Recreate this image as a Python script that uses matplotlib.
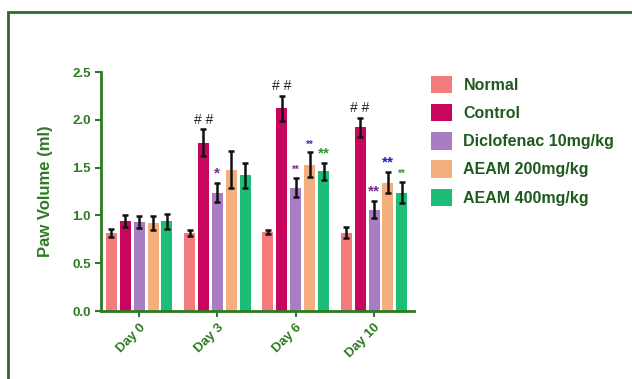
import matplotlib
matplotlib.use('Agg')
import matplotlib.pyplot as plt
import matplotlib.patches as patches
import numpy as np

plt.rcParams['font.family'] = ['Liberation Sans', 'DejaVu Sans']

days = ['Day 0', 'Day 3', 'Day 6', 'Day 10']
groups = ['Normal', 'Control', 'Diclofenac 10mg/kg', 'AEAM 200mg/kg', 'AEAM 400mg/kg']
colors = ['#F47B7B', '#C9065E', '#A97DC2', '#F3B07E', '#1CBE77']

normal = [0.82, 0.82, 0.83, 0.82]
control = [0.94, 1.76, 2.12, 1.92]
diclofenac = [0.93, 1.24, 1.29, 1.06]
aeam200 = [0.92, 1.48, 1.53, 1.34]
aeam400 = [0.94, 1.42, 1.46, 1.24]

normal_err = [0.04, 0.03, 0.02, 0.06]
control_err = [0.06, 0.14, 0.13, 0.10]
diclofenac_err = [0.06, 0.10, 0.10, 0.09]
aeam200_err = [0.07, 0.19, 0.13, 0.11]
aeam400_err = [0.08, 0.13, 0.09, 0.11]

# (day index, group index, text, colour, size)
marks = [
    (1, 1, '# #', '#222222', 10),
    (2, 1, '# #', '#222222', 10),
    (3, 1, '# #', '#222222', 10),
    (1, 2, '*', '#7A2A8A', 11),
    (2, 2, '**', '#7A2A8A', 7),
    (2, 3, '**', '#3A3AB0', 7),
    (2, 4, '**', '#2E9A2E', 11),
    (3, 2, '**', '#7A2A8A', 11),
    (3, 3, '**', '#2020C0', 11),
    (3, 4, '**', '#2E9A2E', 7),
]

green = '#2E7A22'
text_green = '#1F5A1F'

values = [normal, control, diclofenac, aeam200, aeam400]
errors = [normal_err, control_err, diclofenac_err, aeam200_err, aeam400_err]

fig = plt.figure(figsize=(6.32, 3.79), dpi=100)
ax = fig.add_axes([0.16, 0.179, 0.495, 0.631])

x = np.arange(len(days))
step = 0.178
width = 0.14
for i, (vals, errs) in enumerate(zip(values, errors)):
    pos = x + (i - 2) * step
    ax.bar(pos, vals, width=width, color=colors[i], label=groups[i], zorder=2)
    ax.errorbar(pos, vals, yerr=errs, fmt='none', ecolor='#111111',
                elinewidth=1.8, capsize=2.5, capthick=1.8, zorder=3)

for d, g, txt, col, sz in marks:
    top = values[g][d] + errors[g][d]
    ax.text(x[d] + (g - 2) * step, top + 0.03, txt, ha='center', va='bottom',
            color=col, fontsize=sz, fontweight='bold' if txt != '# #' else 'normal')

ax.set_xlim(-0.485, 3.51)
ax.set_ylim(0, 2.5)
ax.set_yticks([0.0, 0.5, 1.0, 1.5, 2.0, 2.5])
ax.set_yticklabels(['0.0', '0.5', '1.0', '1.5', '2.0', '2.5'])
ax.set_xticks(x)
ax.set_xticklabels(days, rotation=45, ha='right', rotation_mode='anchor')

for s in ['top', 'right']:
    ax.spines[s].set_visible(False)
for s in ['left', 'bottom']:
    ax.spines[s].set_color(green)
    ax.spines[s].set_linewidth(2)
ax.tick_params(colors=green, width=1.5, length=4, labelsize=9.5)
for lab in ax.get_xticklabels() + ax.get_yticklabels():
    lab.set_fontweight('bold')
    lab.set_color(green)

ax.set_ylabel('Paw Volume (ml)', labelpad=14)
ax.yaxis.label.set_color(green)
ax.yaxis.label.set_fontsize(12)
ax.yaxis.label.set_fontweight('bold')

leg = ax.legend(loc='upper left', bbox_to_anchor=(1.01, 1.045), frameon=False,
                handlelength=1.3, handleheight=1.3, labelspacing=0.68,
                handletextpad=0.7, prop={'size': 11.5, 'weight': 'bold'})
for t in leg.get_texts():
    t.set_color(text_green)

border = patches.Rectangle((8 / 632, -0.1), 1.2, 1.1 - 12 / 379, transform=fig.transFigure,
                           fill=False, edgecolor='#2D6A2D', linewidth=2, clip_on=False)
fig.patches.append(border)

fig.savefig('out.png', dpi=100)
